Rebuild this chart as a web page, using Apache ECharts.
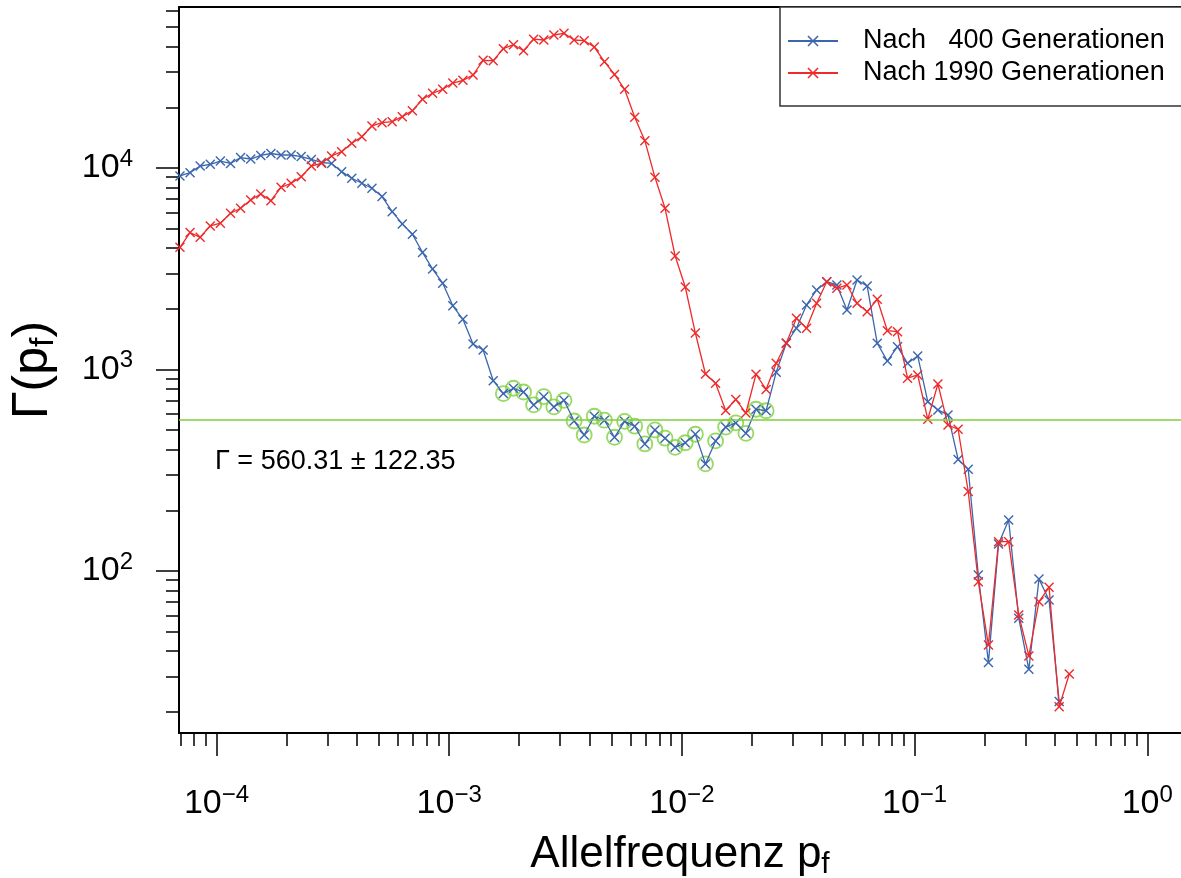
<!DOCTYPE html>
<html><head><meta charset="utf-8">
<script src="https://cdn.jsdelivr.net/npm/echarts@6/dist/echarts.min.js"></script>
<style>html,body{margin:0;padding:0;background:#fff}#c{width:1181px;height:878px}</style>
</head><body><div id="c"></div>
<script>
// ---- data ----
const freq = [6.966e-5, 7.699e-5, 8.508e-5, 9.403e-5, 1.039e-4, 1.149e-4, 1.269e-4, 1.403e-4, 1.550e-4, 1.713e-4,
  1.894e-4, 2.093e-4, 2.313e-4, 2.556e-4, 2.825e-4, 3.122e-4, 3.450e-4, 3.813e-4, 4.214e-4, 4.657e-4,
  5.147e-4, 5.689e-4, 6.287e-4, 6.948e-4, 7.679e-4, 8.486e-4, 9.379e-4, 1.0365e-3, 1.1455e-3, 1.2660e-3,
  1.3992e-3, 1.5463e-3, 1.7089e-3, 1.8887e-3, 2.0873e-3, 2.3068e-3, 2.5494e-3, 2.8176e-3, 3.1139e-3, 3.4414e-3,
  3.8033e-3, 4.2033e-3, 4.6454e-3, 5.1339e-3, 5.6739e-3, 6.2706e-3, 6.9301e-3, 7.6589e-3, 8.4644e-3, 9.3546e-3,
  1.0339e-2, 1.1426e-2, 1.2627e-2, 1.3956e-2, 1.5423e-2, 1.7045e-2, 1.8838e-2, 2.0819e-2, 2.3009e-2, 2.5429e-2,
  2.8103e-2, 3.1059e-2, 3.4325e-2, 3.7935e-2, 4.1925e-2, 4.6334e-2, 5.1207e-2, 5.6592e-2, 6.2544e-2, 6.9122e-2,
  7.6391e-2, 8.4426e-2, 9.3305e-2, 0.10312, 0.11396, 0.12595, 0.13919, 0.15383, 0.17001, 0.18789,
  0.20765, 0.22949, 0.25363, 0.28030, 0.30978, 0.34236, 0.37837, 0.41816, 0.46214];

const gen400 = [9130, 9480, 10230, 10430, 10830, 10530, 11270, 11080, 11540, 11800,
  11600, 11600, 11400, 11020, 10650, 10530, 9590, 8890, 8400, 7930,
  7210, 6070, 5280, 4690, 3810, 3150, 2680, 2070, 1775, 1338,
  1250, 880, 759, 807, 773, 667, 733, 652, 703, 555,
  473, 586, 560, 461, 553, 523, 427, 501, 456, 411,
  433, 477, 340, 442, 518, 543, 482, 635, 624, 970,
  1349, 1602, 2090, 2480, 2728, 2627, 1974, 2782, 2597, 1349,
  1101, 1298, 1074, 1167, 692, 630, 595, 358, 320, 95.5,
  35.1, 136, 179, 58.3, 32.5, 91.3, 71.8, 22.5];

const gen1990 = [4040, 4780, 4530, 5160, 5320, 5960, 6310, 6940, 7430, 6880,
  8020, 8400, 9050, 10230, 10550, 11470, 12050, 13270, 14300, 16160,
  16780, 16980, 17970, 19250, 21930, 23490, 24580, 26410, 27240, 28940,
  34230, 34080, 39090, 40920, 38200, 43580, 43180, 45710, 46610, 43180,
  42840, 39850, 33690, 29110, 24580, 17850, 13660, 8990, 6310, 3658,
  2567, 1517, 950, 854, 626, 710, 608, 947, 796, 1074,
  1354, 1795, 1602, 2131, 2728, 2529, 2627, 2131, 1936, 2230,
  1558, 1540, 905, 939, 566, 847, 530, 505, 248, 88.5,
  42.9, 139.8, 139.8, 60.5, 37.9, 70.4, 83, 21.2, 30.8];

const seriesNames = ['Nach \u2007400 Generationen', 'Nach 1990 Generationen'];
const fitFirst = 32, fitLast = 58;          // points used for the plateau fit
const fitMean = 560.31, fitSd = 122.35;
const fitLabel = '\u0393 = 560.31 \u00b1 122.35';
const xMajor = [1e-4, 1e-3, 1e-2, 1e-1, 1];
const yMajor = [1e2, 1e3, 1e4];
const xRange = [6.90e-5, 1.396];
const yRange = [15.7, 62950];

// ---- helpers ----
const FONT = "'Liberation Sans', Arial, Helvetica, sans-serif";
const BLUE = '#3b66ae', RED = '#ee2a2a', GREEN = '#7dd13b';
const XSYM = 'path://M1,0L5,4L9,0L10,1L6,5L10,9L9,10L5,6L1,10L0,9L4,5L0,1Z';

function minorTicks(lo, hi) {
  const out = [];
  for (let d = Math.floor(Math.log10(lo)); d <= Math.ceil(Math.log10(hi)); d++) {
    for (let m = 2; m <= 9; m++) {
      const v = parseFloat((m * Math.pow(10, d)).toPrecision(6));
      if (v >= lo && v <= hi) out.push(v);
    }
  }
  return out;
}
const fmtPow = v => {
  const e = Math.round(Math.log10(v));
  return '{b|10}{s|' + (e < 0 ? '\u2212' + (-e) : e) + '}';
};
const tickRich = {
  b: {fontSize: 34, lineHeight: 42, fontFamily: FONT, color: '#000'},
  s: {fontSize: 24, lineHeight: 24, verticalAlign: 'top', fontFamily: FONT, color: '#000'}
};
const pairs = arr => arr.map((v, i) => [freq[i], v]);
const fitPts = [];
for (let k = fitFirst; k <= fitLast; k++) fitPts.push([freq[k], gen400[k]]);

const black = {color: '#000', width: 1.5};
const option = {
  animation: false,
  backgroundColor: '#fff',
  grid: {left: 179, right: 0, top: 7, bottom: 145, containLabel: false, outerBoundsMode: 'none'},
  xAxis: [
    {type: 'log', logBase: 10, min: xRange[0], max: xRange[1], position: 'bottom',
     axisLine: {show: true, onZero: false, lineStyle: {color: '#000', width: 2}},
     axisTick: {show: true, customValues: xMajor, length: 23, lineStyle: black},
     minorTick: {show: false}, splitLine: {show: false},
     axisLabel: {customValues: xMajor, formatter: fmtPow, margin: 50, rich: tickRich},
     name: 'Allelfrequenz p{sub|f}', nameLocation: 'middle', nameGap: 97,
     nameTextStyle: {fontFamily: FONT, fontSize: 44, color: '#000', lineHeight: 50,
       rich: {sub: {fontFamily: FONT, fontSize: 30, color: '#000', lineHeight: 30, verticalAlign: 'bottom'}}}},
    {type: 'log', logBase: 10, min: xRange[0], max: xRange[1], position: 'bottom',
     axisLine: {show: false, onZero: false},
     axisTick: {show: true, customValues: minorTicks(xRange[0], xRange[1]), length: 13, lineStyle: black},
     axisLabel: {show: false}, splitLine: {show: false}, minorTick: {show: false}},
    {type: 'log', logBase: 10, min: xRange[0], max: xRange[1], position: 'top',
     axisLine: {show: true, onZero: false, lineStyle: {color: '#000', width: 2}},
     axisTick: {show: false}, axisLabel: {show: false}, splitLine: {show: false}}
  ],
  yAxis: [
    {type: 'log', logBase: 10, min: yRange[0], max: yRange[1], position: 'left',
     axisLine: {show: true, onZero: false, lineStyle: {color: '#000', width: 2}},
     axisTick: {show: true, customValues: yMajor, length: 23, lineStyle: black},
     minorTick: {show: false}, splitLine: {show: false},
     axisLabel: {customValues: yMajor, formatter: fmtPow, margin: 46, rich: tickRich},
     name: '\u0393(p{sub|f})', nameLocation: 'middle', nameGap: 118, nameRotate: 90,
     nameTextStyle: {fontFamily: FONT, fontSize: 50, color: '#000', lineHeight: 56,
       rich: {sub: {fontFamily: FONT, fontSize: 34, color: '#000', lineHeight: 34, verticalAlign: 'bottom'}}}},
    {type: 'log', logBase: 10, min: yRange[0], max: yRange[1], position: 'left',
     axisLine: {show: false, onZero: false},
     axisTick: {show: true, customValues: minorTicks(yRange[0], yRange[1]), length: 13, lineStyle: black},
     axisLabel: {show: false}, splitLine: {show: false}, minorTick: {show: false}}
  ],
  legend: {
    data: seriesNames, orient: 'vertical', left: 780, top: 7,
    padding: [19, 30, 18, 7], itemWidth: 50, itemHeight: 14, itemGap: 2,
    borderColor: '#333', borderWidth: 1.5, borderRadius: 0, backgroundColor: '#fff',
    selectedMode: false,
    textStyle: {fontFamily: FONT, fontSize: 27, color: '#000', lineHeight: 30, padding: [0, 0, 0, 20]}
  },
  graphic: [{
    type: 'text', left: 215, top: 448,
    style: {text: fitLabel, font: '27px ' + FONT, fill: '#000'}
  }],
  series: [
    {type: 'scatter', name: 'fit', data: fitPts, symbol: 'circle', symbolSize: 15, z: 1,
     itemStyle: {color: 'rgba(0,0,0,0)', borderColor: GREEN, borderWidth: 1.8},
     markLine: {silent: true, symbol: 'none', label: {show: false},
       lineStyle: {color: GREEN, width: 1.5, type: 'solid'}, data: [{yAxis: fitMean}]}},
    {type: 'line', name: seriesNames[0], data: pairs(gen400), symbol: XSYM, symbolSize: 10,
     showAllSymbol: true, z: 3, color: BLUE,
     itemStyle: {color: BLUE}, lineStyle: {color: BLUE, width: 1.3}},
    {type: 'line', name: seriesNames[1], data: pairs(gen1990), symbol: XSYM, symbolSize: 10,
     showAllSymbol: true, z: 4, color: RED,
     itemStyle: {color: RED}, lineStyle: {color: RED, width: 1.3}}
  ]
};
const chart = echarts.init(document.getElementById('c'), null, {renderer: 'canvas'});
chart.setOption(option);
</script>
</body></html>
